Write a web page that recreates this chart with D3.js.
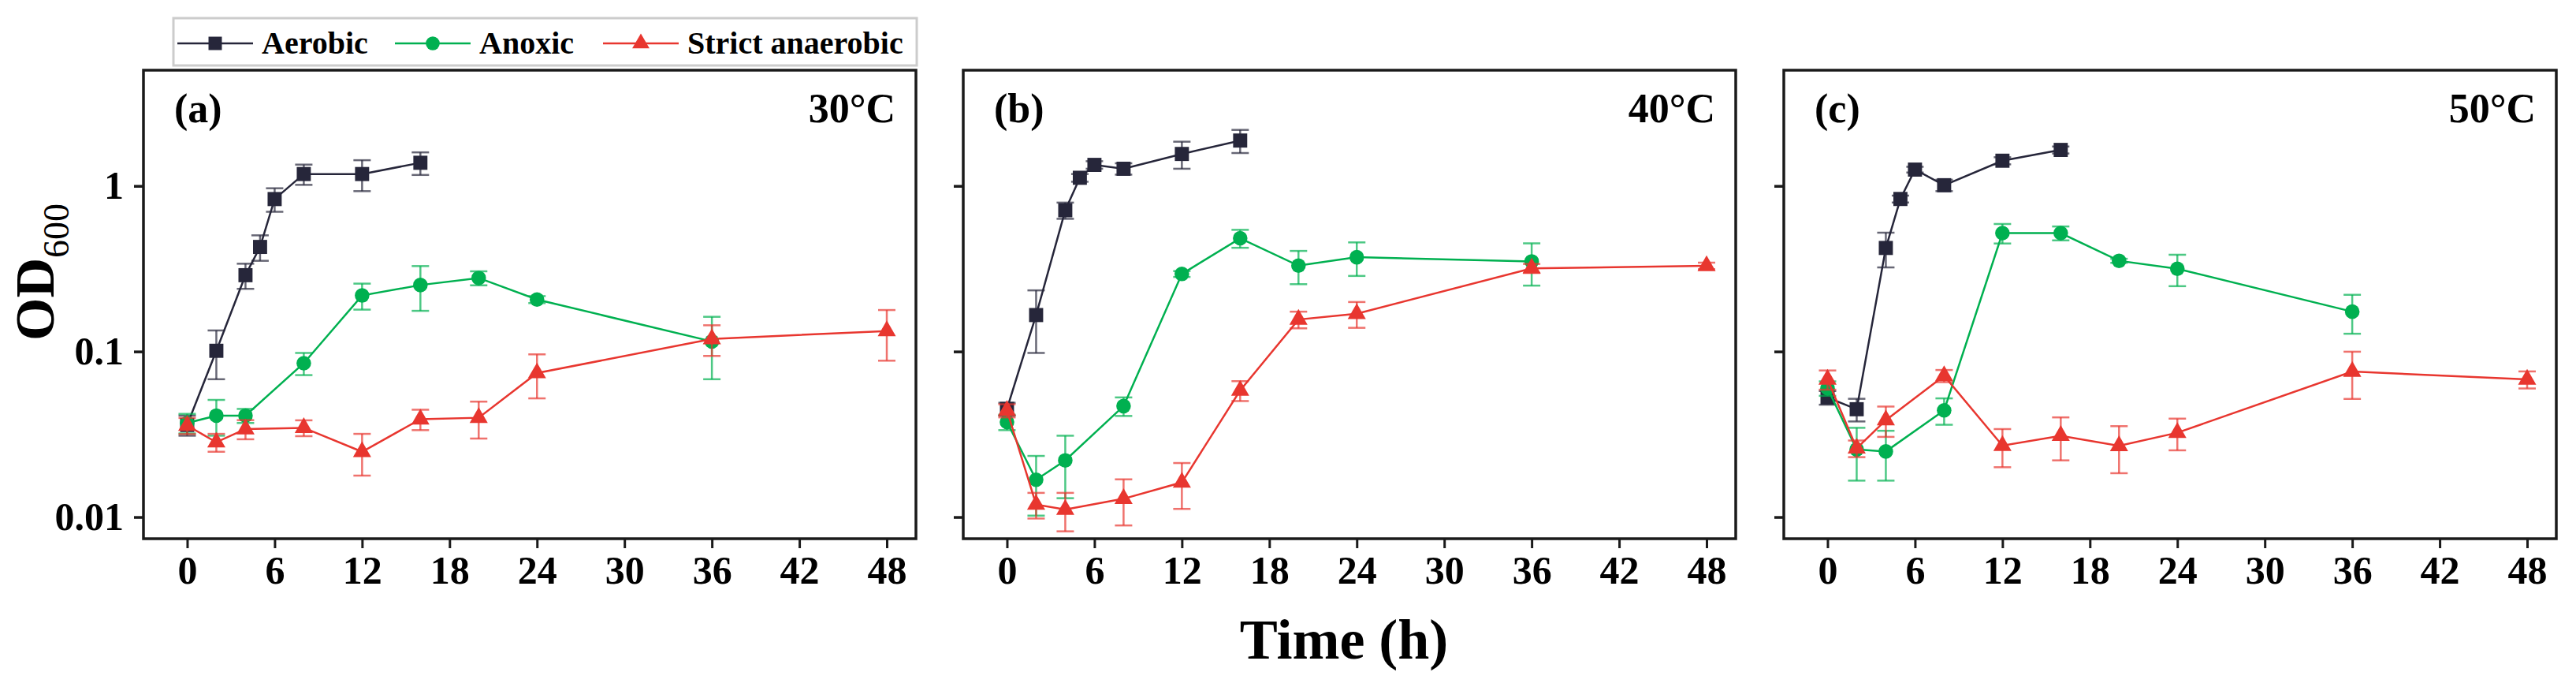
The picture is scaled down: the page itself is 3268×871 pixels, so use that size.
<!DOCTYPE html>
<html lang="en">
	<head>
		<meta charset="utf-8">
		<title>OD600 growth curves</title>
		<script type="text/javascript" src="https://cdn.jsdelivr.net/npm/d3@7/dist/d3.min.js"></script>
		<style type="text/css">
			body { margin: 0; background: #fff; }
			text { font-family: "Liberation Serif", "Times New Roman", serif; font-weight: bold; fill: #000; }
		</style>
	</head>

	<body>
		<script type="text/javascript">

			// sampling times (h)
			var aerobicTime = [0, 2, 4, 5, 6, 8, 12, 16];
			var anoxicTime = [0, 2, 4, 8, 12, 16, 20, 24, 36];
			var strictTime = [0, 2, 4, 8, 12, 16, 20, 24, 36, 48];

			var panelNames = ["(a)", "(b)", "(c)"];
			var temperatures = ["30°C", "40°C", "50°C"];
			var seriesNames = ["Aerobic", "Anoxic", "Strict anaerobic"];

			// OD600 means, one row per panel (30, 40, 50 °C)
			var aerobicOD = [
				[0.036, 0.101, 0.289, 0.428, 0.833, 1.18, 1.18, 1.38],
				[0.045, 0.166, 0.713, 1.12, 1.34, 1.27, 1.56, 1.88],
				[0.0527, 0.0448, 0.422, 0.834, 1.255, 1.01, 1.42, 1.65]
			];
			var aerobicErr = [
				[0.005, 0.033, 0.05, 0.075, 0.135, 0.165, 0.25, 0.215],
				[0.004, 0.068, 0.08, 0.06, 0.07, 0.1, 0.29, 0.3],
				[0.005, 0.007, 0.1, 0.04, 0.05, 0.08, 0.07, 0.08]
			];
			var anoxicOD = [
				[0.037, 0.041, 0.041, 0.085, 0.218, 0.252, 0.278, 0.206, 0.115],
				[0.0375, 0.0168, 0.022, 0.0468, 0.294, 0.483, 0.33, 0.371, 0.35],
				[0.06, 0.0256, 0.0249, 0.0441, 0.519, 0.519, 0.353, 0.316, 0.174]
			];
			var anoxicErr = [
				[0.005, 0.010, 0.004, 0.013, 0.039, 0.076, 0.027, 0.01, 0.047],
				[0.004, 0.0066, 0.009, 0.006, 0.012, 0.06, 0.075, 0.085, 0.1],
				[0.006, 0.009, 0.0083, 0.008, 0.07, 0.05, 0.01, 0.068, 0.046]
			];
			var strictOD = [
				[0.0357, 0.0283, 0.034, 0.0346, 0.0248, 0.039, 0.0398, 0.0741, 0.119, 0.133],
				[0.044, 0.0119, 0.0111, 0.0129, 0.0162, 0.0582, 0.156, 0.169, 0.318, 0.329],
				[0.0678, 0.026, 0.0385, 0.0713, 0.027, 0.031, 0.0269, 0.0323, 0.0757, 0.0678]
			];
			var strictErr = [
				[0.004, 0.0035, 0.0045, 0.0038, 0.007, 0.0055, 0.01, 0.022, 0.025, 0.045],
				[0.004, 0.0021, 0.0029, 0.004, 0.005, 0.008, 0.018, 0.03, 0.02, 0.015],
				[0.009, 0.003, 0.008, 0.006, 0.007, 0.009, 0.0085, 0.007, 0.024, 0.008]
			];

			var xTicks = [0, 6, 12, 18, 24, 30, 36, 42, 48];
			var yTicks = [0.01, 0.1, 1];

			// layout
			var w = 3268;
			var h = 871;
			var panelW = 980;
			var panelLeft = [182, 1222, 2263];
			var plotTop = 89, plotBottom = 683;

			var colors = ["#26263a", "#00b050", "#e8362f"];
			var symbols = [d3.symbolSquare, d3.symbolCircle, d3.symbolTriangle];
			var symbolSize = [320, 270, 230];

			var svg = d3.select("body")
						.append("svg")
						.attr("width", w)
						.attr("height", h);

			for (var p = 0; p < 3; p++) {

				var g = svg.append("g")
					.attr("transform", "translate(" + panelLeft[p] + ",0)");

				var xScale = d3.scaleLinear()
					.domain([-3, 50])
					.range([0, panelW]);

				var yScale = d3.scaleLog()
					.domain([0.0074, 5])
					.range([plotBottom, plotTop]);

				// x axis
				var xAxis = d3.axisBottom(xScale)
					.tickValues(xTicks)
					.tickSize(12)
					.tickSizeOuter(0)
					.tickPadding(9);

				var xg = g.append("g")
					.attr("transform", "translate(0," + plotBottom + ")")
					.call(xAxis);
				xg.select(".domain").remove();
				xg.selectAll("line").attr("stroke", "#1a1a1a").attr("stroke-width", 3);
				xg.selectAll("text").style("font-size", "50px");

				// y axis (labels only on first panel)
				var yAxis = d3.axisLeft(yScale)
					.tickValues(yTicks)
					.tickSize(12)
					.tickSizeOuter(0)
					.tickPadding(13)
					.tickFormat(p == 0 ? function(d) { return String(d); } : function() { return ""; });

				var yg = g.append("g").call(yAxis);
				yg.select(".domain").remove();
				yg.selectAll("line").attr("stroke", "#1a1a1a").attr("stroke-width", 3.5);
				yg.selectAll("text").style("font-size", "50px");

				var series = [
					{t: aerobicTime, v: aerobicOD[p], e: aerobicErr[p]},
					{t: anoxicTime, v: anoxicOD[p], e: anoxicErr[p]},
					{t: strictTime, v: strictOD[p], e: strictErr[p]}
				];

				var line = d3.line()
					.x(function(d) { return xScale(d.t); })
					.y(function(d) { return yScale(d.v); });

				series.forEach(function(s, k) {
					var pts = s.t.map(function(t, i) { return {t: t, v: s.v[i], e: s.e[i]}; });
					var sg = g.append("g");

					// error bars
					var eb = sg.selectAll(".err")
						.data(pts)
						.enter()
						.append("g")
						.attr("stroke", colors[k])
						.attr("stroke-opacity", 0.7)
						.attr("stroke-width", 2.5);
					eb.append("line")
						.attr("x1", function(d) { return xScale(d.t); })
						.attr("x2", function(d) { return xScale(d.t); })
						.attr("y1", function(d) { return yScale(Math.max(d.v - d.e, 0.0075)); })
						.attr("y2", function(d) { return yScale(d.v + d.e); });
					eb.append("line")
						.attr("x1", function(d) { return xScale(d.t) - 11; })
						.attr("x2", function(d) { return xScale(d.t) + 11; })
						.attr("y1", function(d) { return yScale(d.v + d.e); })
						.attr("y2", function(d) { return yScale(d.v + d.e); });
					eb.append("line")
						.attr("x1", function(d) { return xScale(d.t) - 11; })
						.attr("x2", function(d) { return xScale(d.t) + 11; })
						.attr("y1", function(d) { return yScale(Math.max(d.v - d.e, 0.0075)); })
						.attr("y2", function(d) { return yScale(Math.max(d.v - d.e, 0.0075)); });

					sg.append("path")
						.datum(pts)
						.attr("d", line)
						.attr("fill", "none")
						.attr("stroke", colors[k])
						.attr("stroke-width", 2.5);

					sg.selectAll(".mark")
						.data(pts)
						.enter()
						.append("path")
						.attr("transform", function(d) {
							return "translate(" + xScale(d.t) + "," + yScale(d.v) + ")";
						})
						.attr("d", d3.symbol().type(symbols[k]).size(symbolSize[k]))
						.attr("fill", colors[k]);
				});

				// frame
				g.append("rect")
					.attr("x", 0)
					.attr("y", plotTop)
					.attr("width", panelW)
					.attr("height", plotBottom - plotTop)
					.attr("fill", "none")
					.attr("stroke", "#1a1a1a")
					.attr("stroke-width", 3.5);

				g.append("text")
					.attr("x", 39)
					.attr("y", 155)
					.style("font-size", "52px")
					.text(panelNames[p]);

				g.append("text")
					.attr("x", panelW - 26)
					.attr("y", 155)
					.attr("text-anchor", "end")
					.style("font-size", "52px")
					.text(temperatures[p]);
			}

			// legend
			var legend = svg.append("g");
			legend.append("rect")
				.attr("x", 220)
				.attr("y", 23)
				.attr("width", 943)
				.attr("height", 60)
				.attr("fill", "#fff")
				.attr("stroke", "#cccccc")
				.attr("stroke-width", 3);

			var legendX = [225, 501, 765];
			seriesNames.forEach(function(name, k) {
				var lx = legendX[k];
				legend.append("line")
					.attr("x1", lx).attr("x2", lx + 96)
					.attr("y1", 55).attr("y2", 55)
					.attr("stroke", colors[k])
					.attr("stroke-width", 2.5);
				legend.append("path")
					.attr("transform", "translate(" + (lx + 48) + ",55)")
					.attr("d", d3.symbol().type(symbols[k]).size(symbolSize[k] * 0.9))
					.attr("fill", colors[k]);
				legend.append("text")
					.attr("x", lx + 107)
					.attr("y", 68)
					.style("font-size", "40px")
					.text(name);
			});

			// axis titles
			var yLabel = svg.append("text")
				.attr("transform", "translate(68,345) rotate(-90)")
				.attr("text-anchor", "middle")
				.style("font-size", "70px");
			yLabel.append("tspan").text("OD");
			yLabel.append("tspan")
				.attr("dy", 19)
				.style("font-size", "46px")
				.style("font-weight", "normal")
				.text("600");

			svg.append("text")
				.attr("x", 1705)
				.attr("y", 835)
				.attr("text-anchor", "middle")
				.style("font-size", "72px")
				.text("Time (h)");

		</script>
	</body>
</html>
